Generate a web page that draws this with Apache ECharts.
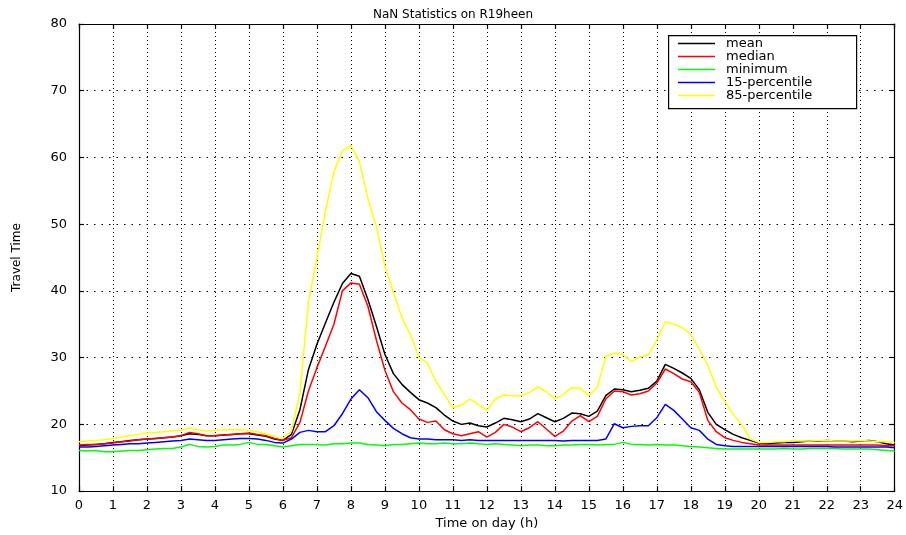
<!DOCTYPE html>
<html>
<head>
<meta charset="utf-8">
<script src="https://cdn.jsdelivr.net/npm/echarts@6/dist/echarts.min.js"></script>
<style>html,body{margin:0;padding:0;background:#fff}#c{width:906px;height:535px}</style>
</head>
<body>
<div id="c"></div>
<script>
var hours = [0,0.25,0.5,0.75,1,1.25,1.5,1.75,2,2.25,2.5,2.75,3,3.25,3.5,3.75,4,4.25,4.5,4.75,5,5.25,5.5,5.75,6,
6.25,6.5,6.75,7,7.25,7.5,7.75,8,8.25,8.5,8.75,9,9.25,9.5,9.75,10,10.25,10.5,10.75,11,11.25,11.5,11.75,12,
12.25,12.5,12.75,13,13.25,13.5,13.75,14,14.25,14.5,14.75,15,15.25,15.5,15.75,16,16.25,16.5,16.75,17,17.25,17.5,17.75,18,
18.25,18.5,18.75,19,19.25,19.5,19.75,20,20.25,20.5,20.75,21,21.25,21.5,21.75,22,22.25,22.5,22.75,23,23.25,23.5,23.75,24];

var meanVals = [16.8,16.9,17.0,17.1,17.3,17.4,17.6,17.7,17.8,17.9,18.0,18.1,18.3,18.6,18.5,18.3,18.3,18.4,18.5,18.6,18.6,18.4,18.2,17.8,17.6,
18.5,22.2,28.2,32.0,35.2,38.3,41.1,42.6,42.2,38.7,34.7,30.5,27.6,26.0,24.8,23.7,23.2,22.5,21.4,20.5,20.0,20.2,19.8,19.6,
20.2,20.9,20.7,20.4,20.8,21.6,21.0,20.4,20.9,21.7,21.6,21.2,22.0,24.3,25.3,25.2,24.9,25.1,25.4,26.5,29.0,28.4,27.7,26.9,
25.2,21.8,20.0,19.2,18.5,18.0,17.6,17.2,17.1,17.2,17.3,17.3,17.4,17.5,17.5,17.6,17.5,17.5,17.4,17.5,17.6,17.4,17.1,16.9];

var medianVals = [16.9,17.0,17.0,17.1,17.2,17.4,17.5,17.7,17.8,17.9,18.0,18.1,18.3,18.8,18.6,18.3,18.3,18.4,18.5,18.6,18.7,18.5,18.3,17.9,17.6,
18.0,20.3,25.0,28.5,31.7,35.0,40.0,41.2,41.0,37.7,32.6,28.1,24.9,23.2,22.2,20.8,20.3,20.5,19.2,18.6,18.3,18.6,18.9,18.1,
18.8,20.0,19.6,18.9,19.5,20.4,19.3,18.2,19.0,20.5,21.3,20.4,21.2,23.8,25.0,24.9,24.4,24.6,25.0,26.2,28.3,27.6,26.8,26.4,
24.8,20.6,18.9,18.0,17.6,17.3,17.1,16.9,16.9,16.9,16.9,16.9,16.9,16.9,16.9,16.9,16.9,16.9,16.9,16.9,16.9,16.9,16.8,16.8];

var minimumVals = [16.1,16.0,16.1,15.9,15.9,16.0,16.1,16.1,16.2,16.3,16.4,16.4,16.6,17.0,16.7,16.6,16.7,16.9,16.9,17.0,17.3,17.0,17.0,16.8,16.6,
16.8,17.0,17.0,17.0,16.9,17.1,17.1,17.2,17.2,17.0,16.9,16.8,17.0,17.0,17.1,17.2,17.1,17.1,17.2,17.1,17.1,17.2,17.1,17.0,
17.1,17.0,16.9,16.8,16.9,16.9,16.8,16.8,16.9,16.9,17.0,17.0,16.9,17.0,17.0,17.3,17.0,17.0,16.9,17.0,16.9,16.9,16.8,16.7,
16.6,16.5,16.4,16.3,16.3,16.3,16.3,16.3,16.3,16.3,16.4,16.3,16.3,16.4,16.4,16.4,16.4,16.3,16.3,16.3,16.3,16.2,16.1,16.0];

var p15Vals = [16.6,16.6,16.7,16.8,16.9,17.0,17.1,17.1,17.2,17.3,17.4,17.5,17.6,17.8,17.7,17.6,17.6,17.7,17.8,17.9,17.9,17.8,17.6,17.3,17.2,
17.8,18.8,19.1,18.9,18.9,19.8,21.6,23.8,25.2,24.0,21.9,20.6,19.4,18.6,18.0,17.8,17.8,17.7,17.7,17.7,17.6,17.7,17.6,17.6,
17.6,17.6,17.6,17.6,17.6,17.6,17.6,17.6,17.5,17.6,17.6,17.6,17.6,17.8,20.1,19.5,19.7,19.8,19.8,21.0,23.0,22.1,20.8,19.5,
19.1,17.8,17.0,16.8,16.7,16.7,16.7,16.7,16.7,16.7,16.7,16.7,16.7,16.7,16.7,16.7,16.6,16.6,16.6,16.6,16.6,16.6,16.6,16.5];

var p85Vals = [17.4,17.5,17.6,17.7,17.9,18.1,18.3,18.5,18.7,18.8,18.9,19.0,19.1,19.5,19.2,19.0,19.1,19.2,19.2,19.2,19.1,18.9,18.6,18.2,17.9,
19.0,24.8,38.3,45.0,52.0,57.8,61.0,61.8,59.4,53.8,49.7,43.7,39.8,36.0,33.5,30.0,29.2,26.5,24.5,22.5,22.9,23.8,23.0,22.1,
23.8,24.4,24.3,24.3,24.8,25.6,24.9,23.8,24.5,25.5,25.4,24.3,25.6,30.2,30.7,30.5,29.4,30.1,30.4,32.6,35.4,35.0,34.5,33.5,
31.3,28.8,25.6,23.5,21.5,20.0,17.8,17.3,17.3,17.4,17.4,17.6,17.5,17.5,17.6,17.6,17.5,17.5,17.5,17.6,17.5,17.4,17.4,17.3];

var seriesNames = ['mean','median','minimum','15-percentile','85-percentile'];
var seriesColors = ['#000000','#ff0000','#00ff00','#0000ff','#ffff00'];
var seriesVals = [meanVals, medianVals, minimumVals, p15Vals, p85Vals];
var xTicks = [0,1,2,3,4,5,6,7,8,9,10,11,12,13,14,15,16,17,18,19,20,21,22,23,24];
var yTicks = [10,20,30,40,50,60,70,80];

var FONT = 'DejaVu Sans';
var chart = echarts.init(document.getElementById('c'));

function pairs(vals){ return hours.map(function(h,i){ return [h, vals[i]]; }); }

var series = seriesNames.map(function(n, k){
  return {
    name: n, type: 'line', data: pairs(seriesVals[k]),
    symbol: 'none', showSymbol: false, animation: false,
    lineStyle: {color: seriesColors[k], width: 1.5},
    itemStyle: {color: seriesColors[k]}
  };
});

chart.setOption({
  backgroundColor: '#ffffff',
  animation: false,
  title: {
    text: 'NaN Statistics on R19heen', left: 'center', top: 4,
    textStyle: {fontFamily: FONT, fontSize: 12, fontWeight: 'normal', color: '#000'}
  },
  grid: {left: 79, right: 8, top: 24, bottom: 41, show: false},
  legend: {
    orient: 'vertical', left: 668, top: 35, z: 20,
    padding: [2, 10, 2, 10], itemGap: 0, itemWidth: 37, itemHeight: 14,
    icon: 'path://M0,0 L37,0 L37,1.5 L0,1.5 Z',
    textStyle: {fontFamily: FONT, fontSize: 13, color: '#000', padding: [0,0,0,6]},
    data: seriesNames
  },
  graphic: [{
    type: 'rect', left: 668, top: 35, z: 15,
    shape: {width: 188, height: 73},
    style: {fill: '#fff', stroke: '#000', lineWidth: 1.2}
  }],
  xAxis: [{
    type: 'value', min: 0, max: 24, interval: 1, position: 'bottom',
    name: 'Time on day (h)', nameLocation: 'middle', nameGap: 24,
    nameTextStyle: {fontFamily: FONT, fontSize: 13, color: '#000'},
    axisLine: {show: true, onZero: false, lineStyle: {color: '#000', width: 1.2}},
    axisTick: {show: true, inside: true, length: 5, lineStyle: {color: '#000', width: 1.2}},
    axisLabel: {fontFamily: FONT, fontSize: 13, color: '#000', margin: 8,
      formatter: function(v){ return xTicks.indexOf(v) >= 0 ? String(v) : ''; }},
    splitLine: {show: true, lineStyle: {color: '#000', type: [1, 3], width: 1}}
  },{
    type: 'value', min: 0, max: 24, interval: 1, position: 'top',
    axisLine: {show: true, onZero: false, lineStyle: {color: '#000', width: 1.2}},
    axisTick: {show: true, inside: true, length: 5, lineStyle: {color: '#000', width: 1.2}},
    axisLabel: {show: false}, splitLine: {show: false}
  }],
  yAxis: [{
    type: 'value', min: 10, max: 80, interval: 10, position: 'left',
    name: 'Travel Time', nameLocation: 'middle', nameGap: 56, nameRotate: 90,
    nameTextStyle: {fontFamily: FONT, fontSize: 12, color: '#000'},
    axisLine: {show: true, onZero: false, lineStyle: {color: '#000', width: 1.2}},
    axisTick: {show: true, inside: true, length: 5, lineStyle: {color: '#000', width: 1.2}},
    axisLabel: {fontFamily: FONT, fontSize: 13, color: '#000', margin: 12,
      formatter: function(v){ return yTicks.indexOf(v) >= 0 ? String(v) : ''; }},
    splitLine: {show: true, lineStyle: {color: '#000', type: [1.5, 6], width: 1}}
  },{
    type: 'value', min: 10, max: 80, interval: 10, position: 'right',
    axisLine: {show: true, onZero: false, lineStyle: {color: '#000', width: 1.2}},
    axisTick: {show: true, inside: true, length: 5, lineStyle: {color: '#000', width: 1.2}},
    axisLabel: {show: false}, splitLine: {show: false}
  }],
  series: series
});
</script>
</body>
</html>
